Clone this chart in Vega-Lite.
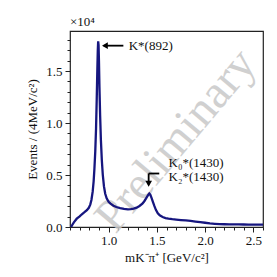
{
  "$schema": "https://vega.github.io/schema/vega-lite/v6.json",
  "width": 193,
  "height": 196,
  "autosize": "none",
  "padding": {"left": 70, "top": 31, "right": 14, "bottom": 50},
  "background": "white",
  "config": {
    "view": {"stroke": "#222222", "strokeWidth": 1.2},
    "font": "Liberation Serif",
    "axis": {"grid": false, "domain": false, "tickColor": "#222222", "labelColor": "#111111", "titleColor": "#111111", "labelFont": "Liberation Serif", "titleFont": "Liberation Serif", "titleFontWeight": "normal"}
  },
  "title": {"text": "×10⁴", "anchor": "start", "frame": "group", "fontSize": 13, "fontWeight": "normal", "font": "Liberation Serif", "offset": 2, "color": "#111111"},
  "datasets": {
    "curve": [
      {"mass": 0.612, "events": 0}, {"mass": 0.62, "events": 150}, {"mass": 0.64, "events": 450}, {"mass": 0.67, "events": 800},
      {"mass": 0.70, "events": 1020}, {"mass": 0.72, "events": 1200}, {"mass": 0.75, "events": 1420}, {"mass": 0.775, "events": 1620},
      {"mass": 0.795, "events": 1850}, {"mass": 0.81, "events": 2150}, {"mass": 0.822, "events": 2600}, {"mass": 0.835, "events": 3400},
      {"mass": 0.845, "events": 4400}, {"mass": 0.853, "events": 5600}, {"mass": 0.862, "events": 7300}, {"mass": 0.87, "events": 9500},
      {"mass": 0.877, "events": 12300}, {"mass": 0.883, "events": 15000}, {"mass": 0.888, "events": 17000}, {"mass": 0.892, "events": 17850},
      {"mass": 0.896, "events": 17500}, {"mass": 0.90, "events": 16000}, {"mass": 0.905, "events": 13500}, {"mass": 0.912, "events": 10800},
      {"mass": 0.92, "events": 8400}, {"mass": 0.93, "events": 6400}, {"mass": 0.94, "events": 5000}, {"mass": 0.952, "events": 3900},
      {"mass": 0.965, "events": 3200}, {"mass": 0.98, "events": 2750}, {"mass": 1.0, "events": 2420}, {"mass": 1.02, "events": 2250},
      {"mass": 1.05, "events": 2050}, {"mass": 1.08, "events": 1920}, {"mass": 1.12, "events": 1820}, {"mass": 1.16, "events": 1740},
      {"mass": 1.20, "events": 1700}, {"mass": 1.23, "events": 1710}, {"mass": 1.26, "events": 1760}, {"mass": 1.29, "events": 1860},
      {"mass": 1.32, "events": 2020}, {"mass": 1.35, "events": 2250}, {"mass": 1.37, "events": 2480}, {"mass": 1.39, "events": 2780},
      {"mass": 1.41, "events": 3080}, {"mass": 1.422, "events": 3220}, {"mass": 1.432, "events": 3120}, {"mass": 1.445, "events": 2800},
      {"mass": 1.46, "events": 2400}, {"mass": 1.475, "events": 2000}, {"mass": 1.49, "events": 1650}, {"mass": 1.51, "events": 1320},
      {"mass": 1.53, "events": 1120}, {"mass": 1.56, "events": 960}, {"mass": 1.59, "events": 860}, {"mass": 1.62, "events": 800},
      {"mass": 1.66, "events": 750}, {"mass": 1.70, "events": 710}, {"mass": 1.75, "events": 670}, {"mass": 1.80, "events": 630},
      {"mass": 1.85, "events": 580}, {"mass": 1.90, "events": 520}, {"mass": 1.95, "events": 460}, {"mass": 2.00, "events": 410},
      {"mass": 2.05, "events": 350}, {"mass": 2.10, "events": 310}, {"mass": 2.15, "events": 280}, {"mass": 2.20, "events": 265},
      {"mass": 2.25, "events": 255}, {"mass": 2.30, "events": 250}, {"mass": 2.35, "events": 245}, {"mass": 2.40, "events": 240},
      {"mass": 2.45, "events": 236}, {"mass": 2.50, "events": 232}, {"mass": 2.55, "events": 228}, {"mass": 2.60, "events": 225}
    ],
    "labels": [
      {"mass": 1.208, "events": 17440, "label": "K*(892)"},
      {"mass": 1.622, "events": 6166, "label": "K₀*(1430)"},
      {"mass": 1.622, "events": 4817, "label": "K₂*(1430)"}
    ],
    "arrows": [
      {"mass": 0.95, "mass2": 1.153, "events": 17440, "events2": 17440},
      {"mass": 1.415, "mass2": 1.525, "events": 5144, "events2": 5144},
      {"mass": 1.415, "mass2": 1.415, "events": 5144, "events2": 4100}
    ],
    "heads": [
      {"mass": 0.962, "events": 17440, "shape": "triangle-left"},
      {"mass": 1.415, "events": 4160, "shape": "triangle-down"}
    ],
    "watermark": [
      {"mass": 1.70, "events": 8300, "label": "Preliminary"}
    ]
  },
  "layer": [
    {
      "data": {"name": "watermark"},
      "mark": {"type": "text", "fontSize": 47, "angle": -50, "fill": "#c8c8c8", "opacity": 0.85, "align": "center", "baseline": "middle", "font": "Liberation Serif"},
      "encoding": {
        "x": {"field": "mass", "type": "quantitative", "axis": null},
        "y": {"field": "events", "type": "quantitative", "axis": null},
        "text": {"field": "label"}
      }
    },
    {
      "data": {"name": "curve"},
      "mark": {"type": "line", "color": "#16167f", "strokeWidth": 2.3, "clip": true},
      "encoding": {
        "x": {"field": "mass", "type": "quantitative", "scale": {"domain": [0.6, 2.6], "nice": false, "zero": false},
          "axis": {"orient": "bottom", "values": [1.0, 1.5, 2.0, 2.5], "format": ".1f", "tickSize": 5, "labelFontSize": 13, "labelPadding": 2, "title": "mK⁻π⁺ [GeV/c²]", "titleFontSize": 13, "titlePadding": 4}},
        "y": {"field": "events", "type": "quantitative", "scale": {"domain": [0, 18850], "nice": false},
          "axis": {"orient": "left", "values": [0, 5000, 10000, 15000], "labelExpr": "format(datum.value/10000, '.1f')", "tickSize": 5, "labelFontSize": 13, "labelPadding": 3, "title": "Events / (4MeV/c²)", "titleFontSize": 13, "titlePadding": 6}}
      }
    },
    {
      "data": {"name": "curve"},
      "mark": {"type": "line", "opacity": 0},
      "encoding": {
        "x": {"field": "mass", "type": "quantitative",
          "axis": {"orient": "bottom", "values": [0.6, 0.7, 0.8, 0.9, 1.1, 1.2, 1.3, 1.4, 1.6, 1.7, 1.8, 1.9, 2.1, 2.2, 2.3, 2.4, 2.6], "labels": false, "tickSize": 3, "title": null}},
        "y": {"field": "events", "type": "quantitative",
          "axis": {"orient": "left", "values": [1000, 2000, 3000, 4000, 6000, 7000, 8000, 9000, 11000, 12000, 13000, 14000, 16000, 17000, 18000], "labels": false, "tickSize": 3, "title": null}}
      }
    },
    {
      "data": {"name": "arrows"},
      "mark": {"type": "rule", "color": "#000000", "strokeWidth": 1.8},
      "encoding": {
        "x": {"field": "mass", "type": "quantitative", "axis": null},
        "x2": {"field": "mass2"},
        "y": {"field": "events", "type": "quantitative", "axis": null},
        "y2": {"field": "events2"}
      }
    },
    {
      "data": {"name": "heads"},
      "mark": {"type": "point", "filled": true, "color": "#000000", "size": 45, "opacity": 1},
      "encoding": {
        "x": {"field": "mass", "type": "quantitative", "axis": null},
        "y": {"field": "events", "type": "quantitative", "axis": null},
        "shape": {"field": "shape", "type": "nominal", "scale": null, "legend": null}
      }
    },
    {
      "data": {"name": "labels"},
      "mark": {"type": "text", "fontSize": 13, "align": "left", "baseline": "middle", "color": "#111111", "font": "Liberation Serif"},
      "encoding": {
        "x": {"field": "mass", "type": "quantitative", "axis": null},
        "y": {"field": "events", "type": "quantitative", "axis": null},
        "text": {"field": "label"}
      }
    }
  ],
  "resolve": {"axis": {"x": "independent", "y": "independent"}}
}
